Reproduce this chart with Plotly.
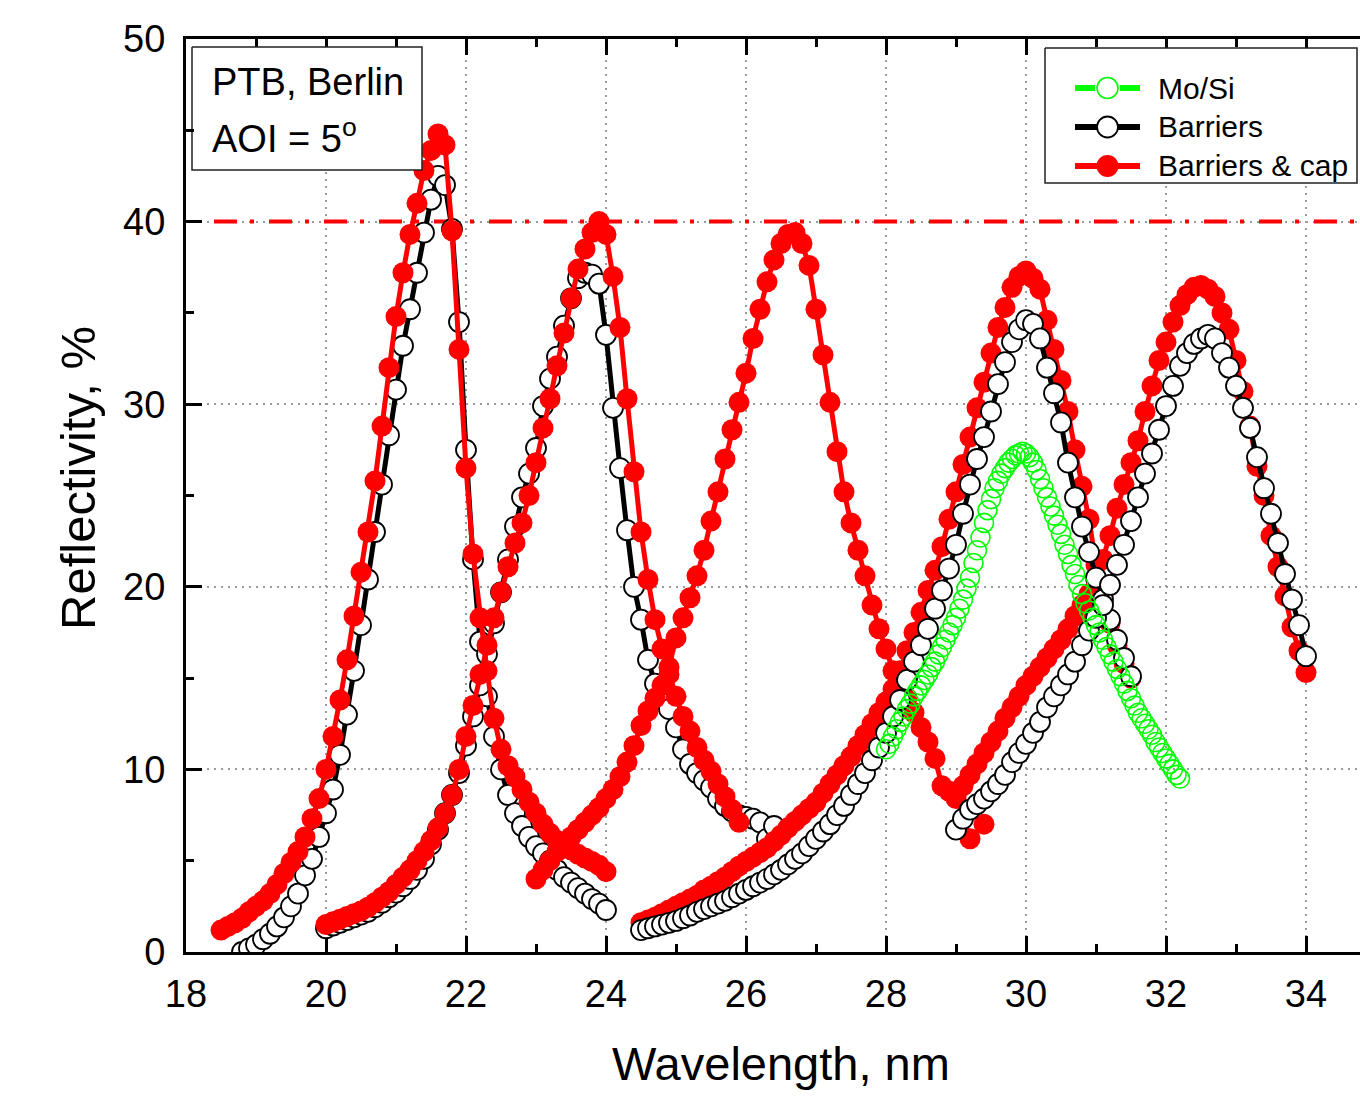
import plotly.graph_objects as go


def grid(start, step, n):
    return [round(start + i * step, 3) for i in range(n)]


# ---- Barriers & cap (red), five measured bands ----
cap1_y = [1.2, 1.4, 1.6, 1.85, 2.2, 2.5, 2.8, 3.2, 3.7, 4.3,
          4.9, 5.5, 6.3, 7.3, 8.4, 10.0, 11.8, 13.8, 16.0, 18.4,
          20.8, 23.0, 25.8, 28.8, 32.0, 34.8, 37.2, 39.3, 41.0, 42.8,
          43.9, 44.8, 44.2, 39.5, 33.0, 26.5, 21.8, 18.3, 15.4, 12.8,
          11.1, 10.2, 9.6, 8.9, 8.2, 7.6, 7.0, 6.5, 6.1, 5.85,
          5.6, 5.35, 5.15, 4.95, 4.75, 4.4]
cap1_x = grid(18.5, 0.1, len(cap1_y))

cap2_y = [1.5, 1.65, 1.8, 1.95, 2.1, 2.25, 2.45, 2.7, 3.0, 3.3,
          3.7, 4.1, 4.5, 5.0, 5.5, 6.1, 6.8, 7.6, 8.6, 10.0,
          11.8, 13.5, 15.2, 16.8, 18.3, 19.7, 21.1, 22.4, 23.5, 25.0,
          26.8, 28.7, 30.3, 32.1, 33.9, 35.8, 37.4, 38.5, 39.4, 40.0,
          39.3, 37.0, 34.2, 30.3, 26.3, 23.0, 20.4, 18.2, 16.6, 15.2,
          14.0, 12.9, 12.1, 11.2, 10.5, 9.9, 9.2, 8.5, 7.8, 7.1]
cap2_x = grid(20.0, 0.1, len(cap2_y))

cap3_y = [4.0, 4.5, 5.0, 5.5, 5.9, 6.3, 6.7, 7.1, 7.5, 7.9,
          8.4, 8.9, 9.6, 10.4, 11.3, 12.4, 13.2, 13.9, 14.6, 15.6,
          17.2, 18.3, 19.4, 20.6, 22.0, 23.6, 25.2, 27.0, 28.6, 30.1,
          31.7, 33.6, 35.2, 36.7, 37.9, 38.8, 39.3, 39.4, 38.8, 37.6,
          35.2, 32.7, 30.1, 27.4, 25.2, 23.5, 22.0, 20.6, 19.0, 17.7,
          16.6, 15.4, 14.6, 13.9, 13.1, 12.3, 11.5, 10.6, 9.1, 8.8,
          8.6, 6.2, 7.0]
cap3_x = grid(23.0, 0.1, 61) + [29.2, 29.4]

cap4_y = [1.6, 1.75, 1.9, 2.1, 2.3, 2.5, 2.7, 2.9, 3.1, 3.4,
          3.6, 3.85, 4.1, 4.4, 4.7, 4.95, 5.2, 5.45, 5.7, 6.05,
          6.4, 6.8, 7.15, 7.5, 7.85, 8.2, 8.7, 9.2, 9.7, 10.2,
          10.7, 11.3, 11.9, 12.5, 13.1, 13.7, 14.4, 15.4, 16.5, 17.5,
          18.6, 19.8, 20.9, 22.2, 23.7, 25.2, 26.7, 28.2, 29.8, 31.2,
          32.8, 34.2, 35.3, 36.4, 37.0, 37.3, 36.9, 36.3, 34.6, 33.0,
          31.3, 29.6, 27.5, 25.5, 23.7, 21.2, 19.5, 18.0, 16.8, 15.8,
          15.0]
cap4_x = grid(24.5, 0.1, len(cap4_y))

cap5_y = [8.4, 9.1, 9.7, 10.3, 10.9, 11.5, 12.1, 12.8, 13.4, 14.0,
          14.6, 15.1, 15.6, 16.1, 16.6, 17.1, 17.7, 18.4, 19.0, 19.6,
          20.4, 21.5, 22.8, 24.3, 25.6, 26.8, 28.0, 29.6, 31.0, 32.4,
          33.4, 34.5, 35.4, 36.0, 36.4, 36.5, 36.3, 35.9, 35.0, 34.1,
          32.4, 30.7, 28.8, 26.6, 25.0, 22.8, 21.1, 19.5, 17.8, 16.5,
          15.3]
cap5_x = grid(29.0, 0.1, len(cap5_y))

# ---- Barriers (black, open circles) ----
bar1_y = [0.0, 0.2, 0.4, 0.7, 1.0, 1.4, 1.9, 2.5, 3.2, 4.2,
          5.1, 6.3, 7.6, 8.9, 10.8, 13.0, 15.4, 17.9, 20.4, 23.0,
          25.6, 28.3, 30.8, 33.2, 35.2, 37.2, 39.4, 41.2, 42.5, 42.0,
          39.6, 34.5, 27.5, 21.5, 17.0, 14.0, 11.8, 10.0, 8.6, 7.6,
          6.9, 6.3, 5.8, 5.4, 5.0, 4.5, 4.1, 3.8, 3.5, 3.2,
          2.9, 2.65, 2.3]
bar1_x = grid(18.8, 0.1, len(bar1_y))

bar2_y = [1.3, 1.45, 1.6, 1.75, 1.9, 2.05, 2.2, 2.45, 2.7, 3.0,
          3.25, 3.6, 4.0, 4.5, 5.1, 5.9, 6.7, 7.6, 8.6, 9.8,
          11.3, 12.9, 14.6, 16.3, 18.0, 19.7, 21.5, 23.3, 24.9, 26.2,
          27.6, 29.9, 31.4, 32.6, 34.3, 35.8, 36.9, 37.2, 37.1, 36.6,
          33.8, 29.8, 26.5, 23.1, 20.0, 18.2, 16.0, 14.7, 13.9, 13.3,
          12.3, 11.1, 10.3, 9.8, 9.4, 9.0, 8.4, 8.0, 7.7, 7.5,
          7.4, 7.3, 7.1, 6.2, 6.9]
bar2_x = grid(20.0, 0.1, len(bar2_y))

bar4_y = [1.2, 1.3, 1.4, 1.5, 1.6, 1.7, 1.85, 2.0, 2.2, 2.35,
          2.5, 2.65, 2.8, 3.0, 3.2, 3.4, 3.6, 3.8, 4.0, 4.25,
          4.5, 4.8, 5.1, 5.4, 5.8, 6.2, 6.6, 7.0, 7.5, 8.0,
          8.6, 9.2, 9.8, 10.5, 11.2, 12.0, 12.9, 13.8, 14.9, 15.9,
          16.8, 17.7, 18.8, 19.8, 21.0, 22.3, 24.0, 25.6, 27.0, 28.2,
          29.6, 31.1, 32.3, 33.4, 34.1, 34.6, 34.4, 33.6, 32.0, 30.6,
          29.0, 26.8, 24.9, 23.3, 21.9, 20.5, 19.3, 18.2, 17.1, 16.1,
          15.1]
bar4_x = grid(24.5, 0.1, len(bar4_y))

bar5_y = [6.7, 7.3, 7.8, 8.1, 8.4, 8.8, 9.2, 9.7, 10.4, 10.9,
          11.4, 12.0, 12.6, 13.4, 14.0, 14.6, 15.2, 15.9, 16.8, 17.6,
          18.3, 19.0, 20.1, 21.2, 22.3, 23.6, 24.9, 26.2, 27.3, 28.6,
          29.9, 31.0, 32.1, 32.8, 33.3, 33.6, 33.8, 33.6, 32.8, 32.0,
          31.0, 29.8, 28.7, 27.1, 25.4, 24.0, 22.4, 20.7, 19.3, 17.9,
          16.2]
bar5_x = grid(29.0, 0.1, len(bar5_y))

# ---- Mo/Si reference mirror (green, open circles) ----
mosi_y = [11.1, 11.4, 11.8, 12.2, 12.6, 12.9, 13.3, 13.6, 14.0, 14.3,
          14.6, 14.9, 15.2, 15.6, 15.9, 16.3, 16.7, 17.1, 17.5, 17.9,
          18.3, 18.8, 19.3, 19.9, 20.5, 21.3, 22.0, 22.7, 23.5, 24.2,
          24.8, 25.4, 25.8, 26.2, 26.5, 26.8, 27.0, 27.2, 27.3, 27.4,
          27.3, 27.1, 26.8, 26.4, 25.9, 25.4, 24.9, 24.4, 23.9, 23.4,
          22.9, 22.3, 21.8, 21.2, 20.7, 20.1, 19.6, 19.1, 18.7, 18.3,
          17.9, 17.5, 17.1, 16.7, 16.3, 15.9, 15.5, 15.1, 14.7, 14.3,
          13.9, 13.5, 13.1, 12.8, 12.5, 12.2, 11.9, 11.5, 11.2, 10.9,
          10.6, 10.3, 10.0, 9.7, 9.5]
mosi_x = grid(28.0, 0.05, len(mosi_y))

target_level = 40.0
x_ticks = [18, 20, 22, 24, 26, 28, 30, 32, 34]
y_ticks = [0, 10, 20, 30, 40, 50]
legend_names = ["Mo/Si", "Barriers", "Barriers & cap"]

RED = "#ff0000"
GREEN = "#00ff00"
FONT = "Liberation Sans, Arial, sans-serif"

# plot-area geometry (pixels)
PL, PR, PT, PB = 186, 1360, 39, 952
PW, PH = PR - PL, PB - PT


def u(px):  # horizontal pixel -> plot-area fraction
    return (px - PL) / PW


def v(py):  # vertical pixel -> plot-area fraction
    return (PB - py) / PH


fig = go.Figure()

# 40 % target level, dash-dot
fig.add_trace(go.Scatter(
    x=[18.4, 34.9], y=[target_level, target_level], mode="lines",
    line=dict(color=RED, width=4, dash="23px,13px,4px,15px"),
    showlegend=False, hoverinfo="skip"))

CAP_LINE = dict(color=RED, width=5)
CAP_MARK = dict(symbol="circle", size=21, color=RED, line=dict(color=RED, width=0))
BAR_LINE = dict(color="black", width=5)
BAR_MARK = dict(symbol="circle", size=20, color="white", line=dict(color="black", width=1.8))
MOSI_MARK = dict(symbol="circle-open", size=19, color=GREEN, line=dict(color=GREEN, width=1.6))


def cap_trace(x, y):
    return go.Scatter(x=x, y=y, mode="lines+markers", name=legend_names[2],
                      line=CAP_LINE, marker=CAP_MARK, showlegend=False)


def bar_trace(x, y):
    return go.Scatter(x=x, y=y, mode="lines+markers", name=legend_names[1],
                      line=BAR_LINE, marker=BAR_MARK, showlegend=False)


# first two bands: red drawn over black
fig.add_trace(bar_trace(bar1_x, bar1_y))
fig.add_trace(bar_trace(bar2_x, bar2_y))
fig.add_trace(cap_trace(cap1_x, cap1_y))
fig.add_trace(cap_trace(cap2_x, cap2_y))
fig.add_trace(cap_trace(cap3_x, cap3_y))
fig.add_trace(cap_trace(cap4_x, cap4_y))
fig.add_trace(cap_trace(cap5_x, cap5_y))
# long-wavelength bands: black drawn over red
fig.add_trace(bar_trace(bar4_x, bar4_y))
fig.add_trace(bar_trace(bar5_x, bar5_y))

fig.add_trace(go.Scatter(
    x=mosi_x, y=mosi_y, mode="markers", name=legend_names[0],
    marker=MOSI_MARK, showlegend=False))

# ---- overlay frame (0..1 on both axes) for the info box and the legend ----
OV = dict(xaxis="x2", yaxis="y2", showlegend=False, hoverinfo="skip")


def box(x0, y0, x1, y1):
    return go.Scatter(x=[u(x0), u(x1), u(x1), u(x0), u(x0)],
                      y=[v(y0), v(y0), v(y1), v(y1), v(y0)],
                      mode="lines", fill="toself", fillcolor="white",
                      line=dict(color="#222", width=1.5), **OV)


fig.add_trace(box(192, 47, 422, 170))
fig.add_trace(box(1045, 48, 1357, 183))

row_y = [88, 127, 166]
lx0, lx1, lxm = 1075, 1140, 1107.5
# Mo/Si: dashed green with open circle
fig.add_trace(go.Scatter(x=[u(lx0), u(lx1)], y=[v(row_y[0])] * 2, mode="lines",
                         line=dict(color=GREEN, width=6, dash="20px,25px"), **OV))
fig.add_trace(go.Scatter(x=[u(lxm)], y=[v(row_y[0])], mode="markers",
                         marker=dict(symbol="circle", size=21, color="white",
                                     line=dict(color=GREEN, width=1.6)), **OV))
# Barriers
fig.add_trace(go.Scatter(x=[u(lx0), u(lxm), u(lx1)], y=[v(row_y[1])] * 3,
                         mode="lines", line=dict(color="black", width=6), **OV))
fig.add_trace(go.Scatter(x=[u(lxm)], y=[v(row_y[1])], mode="markers",
                         marker=dict(symbol="circle", size=21, color="white",
                                     line=dict(color="black", width=1.8)), **OV))
# Barriers & cap
fig.add_trace(go.Scatter(x=[u(lx0), u(lxm), u(lx1)], y=[v(row_y[2])] * 3,
                         mode="lines", line=dict(color=RED, width=6), **OV))
fig.add_trace(go.Scatter(x=[u(lxm)], y=[v(row_y[2])], mode="markers",
                         marker=dict(symbol="circle", size=22, color=RED), **OV))

for name, ry in zip(legend_names, row_y):
    fig.add_annotation(xref="paper", yref="paper", x=u(1156), y=v(ry),
                       xanchor="left", yanchor="middle", showarrow=False,
                       text=name, font=dict(family=FONT, size=30, color="black"))

fig.add_annotation(xref="paper", yref="paper", x=u(210), y=v(82),
                   xanchor="left", yanchor="middle", showarrow=False,
                   text="PTB, Berlin", font=dict(family=FONT, size=38, color="black"))
fig.add_annotation(xref="paper", yref="paper", x=u(210), y=v(136),
                   xanchor="left", yanchor="middle", showarrow=False,
                   text="AOI = 5<sup>o</sup>", font=dict(family=FONT, size=38, color="black"))

# axis titles
fig.add_annotation(xref="paper", yref="paper", x=u(781), y=v(1063),
                   xanchor="center", yanchor="middle", showarrow=False,
                   text="Wavelength, nm", font=dict(family=FONT, size=47, color="black"))
fig.add_annotation(xref="paper", yref="paper", x=u(78), y=v(478),
                   xanchor="center", yanchor="middle", showarrow=False, textangle=-90,
                   text="Reflectivity, %", font=dict(family=FONT, size=49, color="black"))

axis_common = dict(
    showline=True, linecolor="black", linewidth=3,
    ticks="inside", ticklen=16, tickwidth=3, tickcolor="black",
    showgrid=True, gridcolor="#9a9a9a", gridwidth=1.5, griddash="2px,5px",
    zeroline=False,
    tickfont=dict(family=FONT, size=38, color="black"),
)

fig.update_xaxes(
    **axis_common,
    range=[18, 18 + PW / 70], tickvals=x_ticks,
    mirror="allticks", ticklabelstandoff=6, layer="below traces",
    minor=dict(dtick=1, tick0=18, ticks="inside", ticklen=8, tickwidth=3,
               tickcolor="black", showgrid=False),
)
fig.update_yaxes(
    **axis_common,
    range=[0, 50], tickvals=y_ticks,
    mirror=False, ticklabelstandoff=10,
    minor=dict(dtick=5, tick0=0, ticks="inside", ticklen=8, tickwidth=3,
               tickcolor="black", showgrid=False),
)

fig.update_layout(
    width=1360, height=1096,
    margin=dict(l=PL, r=1360 - PR, t=PT, b=1096 - PB, autoexpand=False),
    paper_bgcolor="white", plot_bgcolor="white",
    font=dict(family=FONT, color="black"),
    showlegend=False,
    xaxis2=dict(overlaying="x", range=[0, 1], visible=False, fixedrange=True),
    yaxis2=dict(overlaying="y", range=[0, 1], visible=False, fixedrange=True),
)

fig.write_html("out.html")
